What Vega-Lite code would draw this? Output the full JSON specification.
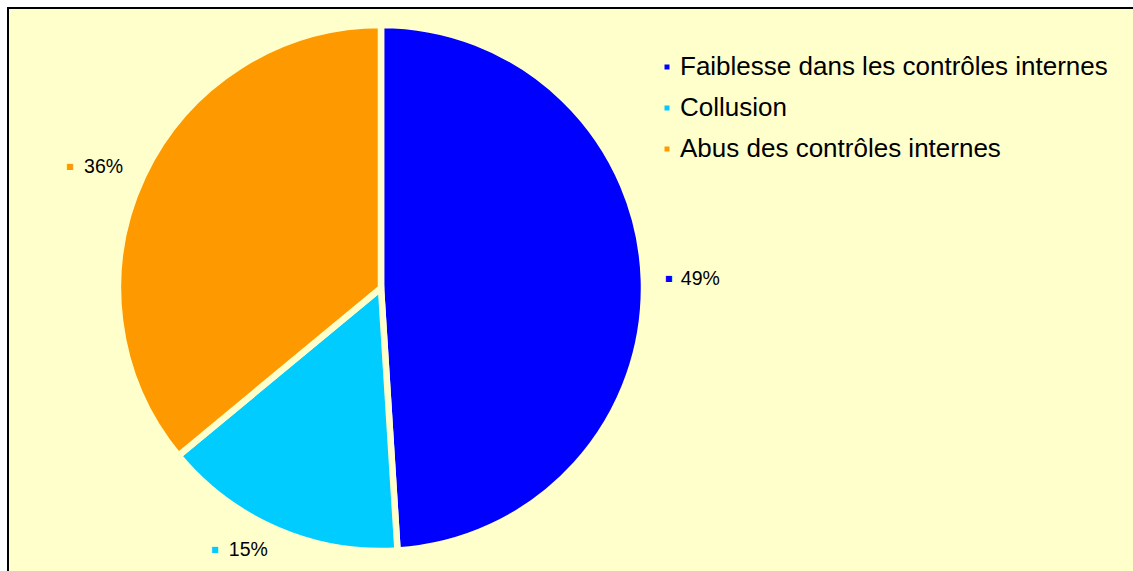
{
  "$schema": "https://vega.github.io/schema/vega-lite/v6.json",
  "width": 1125,
  "height": 563,
  "autosize": {"type": "none"},
  "padding": {"left": 8, "top": 8, "right": 0, "bottom": 0},
  "background": "#FFFFFF",
  "config": {
    "view": {"stroke": null},
    "font": "Liberation Sans"
  },
  "layer": [
    {
      "data": {"values": [{"cadre": 1}]},
      "mark": {"type": "rect", "fill": "#FFFFCC", "stroke": "#000000", "strokeWidth": 2},
      "encoding": {
        "x": {"value": 0},
        "x2": {"value": {"expr": "width + 6"}},
        "y": {"value": 0},
        "y2": {"value": {"expr": "height + 6"}}
      }
    },
    {
      "data": {
        "values": [
          {"cause": "Faiblesse dans les contrôles internes", "rang": 1, "share": 0.49},
          {"cause": "Collusion", "rang": 2, "share": 0.15},
          {"cause": "Abus des contrôles internes", "rang": 3, "share": 0.36}
        ]
      },
      "encoding": {
        "theta": {"field": "share", "type": "quantitative", "stack": true},
        "order": {"field": "rang", "type": "quantitative"},
        "color": {
          "field": "cause",
          "type": "nominal",
          "sort": null,
          "scale": {
            "domain": ["Faiblesse dans les contrôles internes", "Collusion", "Abus des contrôles internes"],
            "range": ["#0000FF", "#00CCFF", "#FF9900"]
          },
          "legend": {
            "orient": "none",
            "legendX": 646,
            "legendY": 46,
            "title": null,
            "padding": 0,
            "symbolType": "square",
            "symbolSize": 25,
            "symbolStrokeWidth": 0,
            "labelFontSize": 26,
            "labelFont": "Liberation Sans",
            "labelColor": "#000000",
            "labelLimit": 0,
            "labelOffset": 0,
            "rowPadding": 15
          }
        }
      },
      "layer": [
        {
          "mark": {"type": "arc", "outerRadius": 263, "x": 373, "y": 280, "stroke": "#FFFFCC", "strokeWidth": 6.5}
        },
        {
          "mark": {
            "type": "text",
            "text": "■",
            "font": "DejaVu Sans",
            "fontSize": 8,
            "radius": 285,
            "x": 373,
            "y": 280,
            "baseline": "middle",
            "align": "center",
            "dx": {"expr": "(datum.share_start + datum.share_end) < 1 ? 3 : -53"}
          }
        },
        {
          "mark": {
            "type": "text",
            "fontSize": 19.5,
            "radius": 285,
            "x": 373,
            "y": 280,
            "baseline": "middle",
            "align": {"expr": "(datum.share_start + datum.share_end) < 1 ? 'left' : 'right'"},
            "dx": {"expr": "(datum.share_start + datum.share_end) < 1 ? 15 : 0"}
          },
          "encoding": {
            "text": {"field": "share", "type": "quantitative", "format": ".0%"},
            "color": {"value": "#000000"}
          }
        }
      ]
    }
  ]
}
